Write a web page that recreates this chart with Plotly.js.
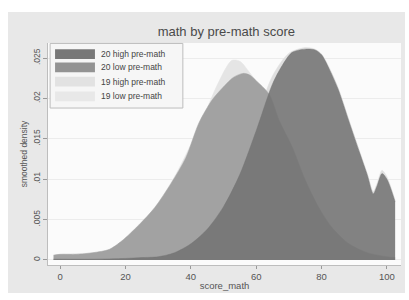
<!DOCTYPE html>
<html>
<head>
<meta charset="utf-8">
<script src="https://cdn.plot.ly/plotly-3.0.1.min.js"></script>
<style>
html,body{margin:0;padding:0;background:#ffffff;width:409px;height:300px;overflow:hidden;}
#chart{position:absolute;left:8px;top:12px;width:397px;height:281px;}
</style>
</head>
<body>
<div id="chart"></div>
<script>
// Series: score_math values and smoothed densities
const hi20X = [-2, 0, 10, 20, 25, 30, 35, 40, 45, 50, 55, 60, 65, 68, 71, 75, 78, 80, 82.5, 85, 88.5, 91.7, 94, 95.8, 97, 98.5, 100, 102.5];
const hi20Y = [0.0001, 0.0001, 0.0001, 0.0002, 0.0003, 0.0004, 0.0009, 0.0020, 0.0038, 0.0066, 0.0106, 0.0160, 0.0218, 0.0241, 0.0257, 0.0261, 0.0260, 0.0254, 0.0235, 0.0212, 0.0170, 0.0132, 0.0105, 0.0082, 0.0092, 0.0107, 0.0100, 0.0072];

const lo20X = [-2, 0, 5, 10, 15, 19, 24, 29, 34, 38.5, 42.5, 46.5, 49, 53, 56, 58, 60, 64, 67, 71, 75, 79, 83, 88, 94, 100, 102.5];
const lo20Y = [0.0006, 0.0007, 0.0007, 0.0009, 0.0013, 0.0024, 0.0043, 0.0065, 0.0095, 0.0127, 0.0170, 0.0198, 0.0210, 0.0226, 0.0231, 0.0229, 0.0222, 0.0205, 0.0173, 0.0140, 0.0099, 0.0066, 0.0041, 0.0021, 0.0009, 0.0004, 0.0003];

const hi19X = [-2, 0, 10, 20, 25, 30, 35, 40, 45, 50, 55, 60, 65, 70, 75, 78, 80, 82.5, 85, 88.5, 91.7, 94, 95.8, 97, 98.5, 100, 102.5];
const hi19Y = [0.0001, 0.0001, 0.0001, 0.0002, 0.0003, 0.0005, 0.0010, 0.0022, 0.0042, 0.0073, 0.0116, 0.0173, 0.0228, 0.0256, 0.0263, 0.0261, 0.0255, 0.0237, 0.0214, 0.0172, 0.0134, 0.0107, 0.0085, 0.0095, 0.0111, 0.0103, 0.0074];

const lo19X = [-2, 0, 10, 15, 20, 25, 30, 35, 40, 45, 48, 52.5, 55, 58, 61, 64, 67, 72, 77, 83, 90, 100, 102.5];
const lo19Y = [0.0006, 0.0007, 0.0009, 0.0013, 0.0026, 0.0046, 0.0071, 0.0103, 0.0143, 0.0188, 0.0216, 0.0247, 0.0246, 0.0232, 0.0215, 0.0195, 0.0165, 0.0120, 0.0075, 0.0040, 0.0015, 0.0004, 0.0003];

const seriesNames = ["20 high pre-math", "20 low pre-math", "19 high pre-math", "19 low pre-math"];
const xTicks = [0, 20, 40, 60, 80, 100];
const yTicks = [0, 0.005, 0.01, 0.015, 0.02, 0.025];
const yTickText = ["0", ".005", ".01", ".015", ".02", ".025"];

const fills = ["rgba(114,114,114,0.86)", "#a2a2a2", "#e0e0e0", "#e5e5e5"];
const swatchColors = ["#787878", "#939393", "#e2e2e2", "#e8e8e8"];

function area(x, y, name, fill) {
  return {
    type: "scatter", mode: "lines", x: x, y: y, name: name,
    fill: "tozeroy", fillcolor: fill, showlegend: false,
    line: {color: fill, width: 0.5, shape: "spline", smoothing: 0.8},
    hoverinfo: "skip"
  };
}

const data = [
  area(lo19X, lo19Y, seriesNames[3], fills[3]),
  area(hi19X, hi19Y, seriesNames[2], fills[2]),
  area(lo20X, lo20Y, seriesNames[1], fills[1]),
  area(hi20X, hi20Y, seriesNames[0], fills[0])
];

// Legend (Stata-style key box) built from the series names
const shapes = [{type: "rect", xref: "paper", yref: "paper", x0: 0.006, x1: 0.382, y0: 0.707, y1: 0.998,
                 fillcolor: "#f6f6f6", line: {color: "#bdbdbd", width: 1}, layer: "above"}];
const annotations = [];
const rowY = [0.950, 0.890, 0.826, 0.760];
seriesNames.forEach(function (n, i) {
  shapes.push({type: "rect", xref: "paper", yref: "paper", x0: 0.020, x1: 0.133,
               y0: rowY[i] - 0.022, y1: rowY[i] + 0.022, fillcolor: swatchColors[i],
               line: {width: 0}, layer: "above"});
  annotations.push({xref: "paper", yref: "paper", x: 0.145, y: rowY[i], xanchor: "left", yanchor: "middle",
                    text: n, showarrow: false, font: {size: 8.5, color: "#444"}});
});

const layout = {
  width: 397, height: 281,
  margin: {l: 40, r: 4, t: 31, b: 28},
  paper_bgcolor: "#e8e8e8",
  plot_bgcolor: "#fbfbfb",
  font: {family: "Liberation Sans, Arial, sans-serif", color: "#555", size: 9},
  title: {text: "math by pre-math score", x: 0.55, xanchor: "center", y: 0.93, yanchor: "middle", yref: "container",
          font: {size: 13, color: "#4a4a4a"}},
  showlegend: false,
  shapes: shapes,
  annotations: annotations,
  xaxis: {
    range: [-3.7, 104.3], tickvals: xTicks, ticktext: xTicks.map(String),
    showgrid: false, zeroline: false, showline: true, linecolor: "#bdbdbd", linewidth: 1,
    ticks: "outside", ticklen: 3, tickcolor: "#999", tickfont: {size: 9.5, color: "#555"},
    title: {text: "score_math", font: {size: 9.5, color: "#555"}, standoff: 0}
  },
  yaxis: {
    range: [-0.00062, 0.02686], tickvals: yTicks, ticktext: yTickText, tickangle: -90,
    showgrid: true, gridcolor: "#ececec", gridwidth: 1, zeroline: false,
    showline: true, linecolor: "#bdbdbd", linewidth: 1,
    ticks: "outside", ticklen: 4, tickcolor: "#999", tickfont: {size: 8.5, color: "#555"},
    title: {text: "smoothed density", font: {size: 8.5, color: "#555"}, standoff: 2}
  }
};

Plotly.newPlot("chart", data, layout, {displayModeBar: false, staticPlot: true});
</script>
</body>
</html>
